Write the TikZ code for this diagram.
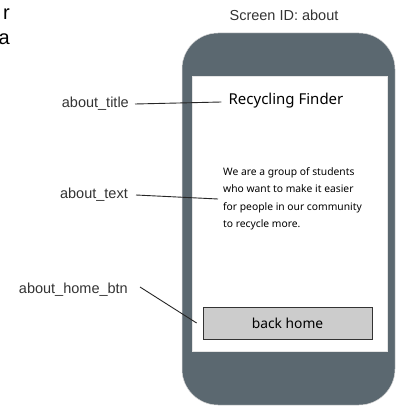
\documentclass[tikz,border=0pt]{standalone}
\usepackage{fontspec}
\setmainfont{Liberation Sans}
\newfontfamily\comicfont{Noto Sans}
\definecolor{phonegray}{HTML}{5B6870}
\definecolor{btnfill}{HTML}{CCCCCC}
\definecolor{lblcol}{HTML}{333333}
\begin{document}
\begin{tikzpicture}[x=1pt,y=-1pt,
  lbl/.style={font=\fontsize{14.5}{16}\selectfont, text=lblcol, inner sep=3pt},
  mock/.style={font=\comicfont, text=black, inner sep=3pt},
  conn/.style={draw=black!85, line width=0.9pt}]
\useasboundingbox (0,0) rectangle (398,406);
% cut-off text fragments at top-left
\node[anchor=base east, inner sep=0pt, font=\fontsize{20}{22}\selectfont] (fragr) at (10,20) {r};
\node[anchor=base east, inner sep=0pt, font=\fontsize{20}{22}\selectfont] (fraga) at (10,45) {a};
% screen id
\node[lbl] (sid) at (284,15) {Screen ID: about};
% phone body
\path[fill=phonegray, draw=black!15, line width=0.5pt, rounded corners=36pt] (182,33) rectangle (395,405);
% screen
\node[fill=white, draw=black!10, line width=0.5pt, minimum width=195pt, minimum height=275pt, inner sep=0pt] (screen) at (289.5,213.5) {};
% title
\node[mock, font=\comicfont\fontsize{15}{17}\selectfont] (title) at (286,101) {Recycling Finder};
% body text
\node[mock, align=left, anchor=west, font=\comicfont\fontsize{10.3}{17.5}\selectfont] (body) at (220,199)
  {We are a group of students\\who want to make it easier\\for people in our community\\to recycle more.};
% button
\node[fill=btnfill, draw=black!80, line width=0.8pt, minimum width=169pt, minimum height=32pt, inner sep=0pt,
      font=\comicfont\fontsize{13.8}{15}\selectfont] (btn) at (287.5,323) {back home};
% labels
\node[lbl, anchor=east] (ltitle) at (132,104) {about\_title};
\node[lbl, anchor=east] (ltext) at (131,195) {about\_text};
\node[lbl, anchor=east] (lbtn) at (131,290) {about\_home\_btn};
% connectors
\draw[conn] ([xshift=3pt]ltitle.east) -- ([xshift=-4pt,yshift=-1pt]title.west);
\draw[conn] ([xshift=5pt]ltext.east) -- ([xshift=-2pt]body.west);
\draw[conn] ([xshift=9pt,yshift=3pt]lbtn.east) -- ([xshift=-6pt]btn.west);
\end{tikzpicture}
\end{document}
